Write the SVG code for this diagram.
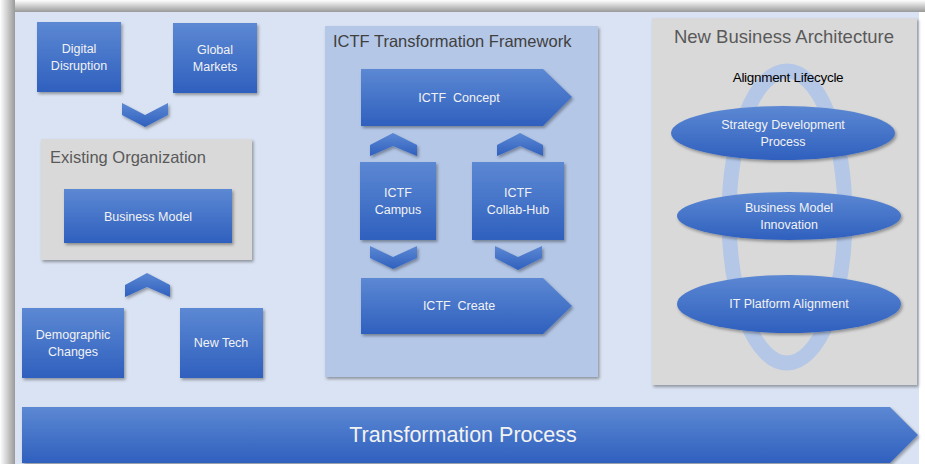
<svg xmlns="http://www.w3.org/2000/svg" width="925" height="464" viewBox="0 0 925 464">
<defs>
  <linearGradient id="blue" x1="0" y1="0" x2="0" y2="1">
    <stop offset="0" stop-color="#5c88d3"/>
    <stop offset="1" stop-color="#2f60be"/>
  </linearGradient>
  <linearGradient id="topShade" x1="0" y1="0" x2="0" y2="1">
    <stop offset="0" stop-color="#ffffff"/>
    <stop offset="1" stop-color="#9a9a9a"/>
  </linearGradient>
  <linearGradient id="leftShade" x1="0" y1="0" x2="1" y2="0">
    <stop offset="0" stop-color="#ffffff"/>
    <stop offset="1" stop-color="#9a9a9a"/>
  </linearGradient>
  <filter id="sh" x="-20%" y="-20%" width="140%" height="150%">
    <feDropShadow dx="1.5" dy="2" stdDeviation="1.5" flood-color="#000" flood-opacity="0.35"/>
  </filter>
  <style>
    .box { fill: url(#blue); filter: url(#sh); }
    .lbl { font-family: "Liberation Sans", Arial, sans-serif; font-size: 12.5px; fill: #f2f2f2; text-anchor: middle; }
    .panelGray { fill: #d9d9d9; filter: url(#sh); }
    .panelBlue { fill: #b4c7e7; filter: url(#sh); }
    .ptitle { font-family: "Liberation Sans", Arial, sans-serif; fill: #595959; }
  </style>
</defs>

<!-- frame -->
<rect x="0" y="0" width="925" height="464" fill="#ffffff"/>
<rect x="0" y="0" width="925" height="12" fill="url(#topShade)"/>
<rect x="0" y="0" width="15" height="464" fill="url(#leftShade)"/>
<rect x="15" y="12" width="904" height="452" fill="#dae3f3"/>

<!-- panels -->
<g id="existing-organization">
  <rect class="panelGray" x="41" y="139" width="211" height="121"/>
  <text class="ptitle" x="50" y="163" font-size="16.5">Existing Organization</text>
</g>
<g id="ictf-framework">
  <rect class="panelBlue" x="325" y="26" width="273" height="351"/>
  <text class="ptitle" x="333" y="47" font-size="16.5" style="fill:#404040">ICTF Transformation Framework</text>
</g>
<g id="new-business-architecture">
  <rect class="panelGray" x="652" y="18" width="265" height="367"/>
  <text class="ptitle" x="784" y="43" font-size="18.5" text-anchor="middle">New Business Architecture</text>
  <ellipse cx="787" cy="217" rx="58" ry="146" fill="none" stroke="#b4c7e7" stroke-width="15"/>
  <text x="788" y="82" font-family="Liberation Sans, Arial, sans-serif" font-size="13.5" fill="#000" text-anchor="middle" letter-spacing="-0.3">Alignment Lifecycle</text>
</g>

<!-- nodes -->
<g id="digital-disruption">
  <rect class="box" x="37" y="22" width="84" height="70"/>
  <text class="lbl" x="79" y="53">Digital</text>
  <text class="lbl" x="79" y="70">Disruption</text>
</g>
<g id="global-markets">
  <rect class="box" x="173" y="23" width="84" height="70"/>
  <text class="lbl" x="215" y="54">Global</text>
  <text class="lbl" x="215" y="71">Markets</text>
</g>
<g id="business-model">
  <rect class="box" x="64" y="189" width="168" height="54"/>
  <text class="lbl" x="148" y="221">Business Model</text>
</g>
<g id="demographic-changes">
  <rect class="box" x="22" y="308" width="102" height="70"/>
  <text class="lbl" x="73" y="339">Demographic</text>
  <text class="lbl" x="73" y="356">Changes</text>
</g>
<g id="new-tech">
  <rect class="box" x="180" y="308" width="83" height="70"/>
  <text class="lbl" x="221" y="347">New Tech</text>
</g>
<g id="ictf-concept">
  <polygon class="box" points="361,69 543,69 572,97 543,126 361,126"/>
  <text class="lbl" x="459" y="102" xml:space="preserve">ICTF  Concept</text>
</g>
<g id="ictf-campus">
  <rect class="box" x="360" y="162" width="76" height="78"/>
  <text class="lbl" x="398" y="197">ICTF</text>
  <text class="lbl" x="398" y="214">Campus</text>
</g>
<g id="ictf-collab-hub">
  <rect class="box" x="472" y="162" width="92" height="78"/>
  <text class="lbl" x="518" y="197">ICTF</text>
  <text class="lbl" x="518" y="214">Collab-Hub</text>
</g>
<g id="ictf-create">
  <polygon class="box" points="361,278 543,278 572,306 543,334 361,334"/>
  <text class="lbl" x="459" y="310" xml:space="preserve">ICTF  Create</text>
</g>
<g id="strategy-development-process">
  <ellipse class="box" cx="783" cy="133" rx="112" ry="27"/>
  <text class="lbl" x="783" y="129">Strategy Development</text>
  <text class="lbl" x="783" y="146">Process</text>
</g>
<g id="business-model-innovation">
  <ellipse class="box" cx="789" cy="216" rx="112" ry="24"/>
  <text class="lbl" x="789" y="212">Business Model</text>
  <text class="lbl" x="789" y="229">Innovation</text>
</g>
<g id="it-platform-alignment">
  <ellipse class="box" cx="789" cy="304" rx="112" ry="29"/>
  <text class="lbl" x="789" y="308">IT Platform Alignment</text>
</g>
<g id="transformation-process">
  <polygon class="box" points="22,407 890,407 918,435 890,463 22,463"/>
  <text x="463" y="442" font-family="Liberation Sans, Arial, sans-serif" font-size="21.5" fill="#f2f2f2" text-anchor="middle">Transformation Process</text>
</g>

<!-- connectors (chevrons) -->
<g id="connectors">
  <polygon class="box" points="122,103 145,115 168,103 168,115 145,127 122,115"/>
  <polygon class="box" points="125,285 147,273 170,285 170,297 147,287 125,297"/>
  <polygon class="box" points="370,145 393,133 417,145 417,156 393,146 370,156"/>
  <polygon class="box" points="497,145 520,133 543,145 543,156 520,146 497,156"/>
  <polygon class="box" points="370,246 393,257 417,246 417,258 393,269 370,258"/>
  <polygon class="box" points="495,246 518,257 542,246 542,258 518,270 495,258"/>
</g>
</svg>
